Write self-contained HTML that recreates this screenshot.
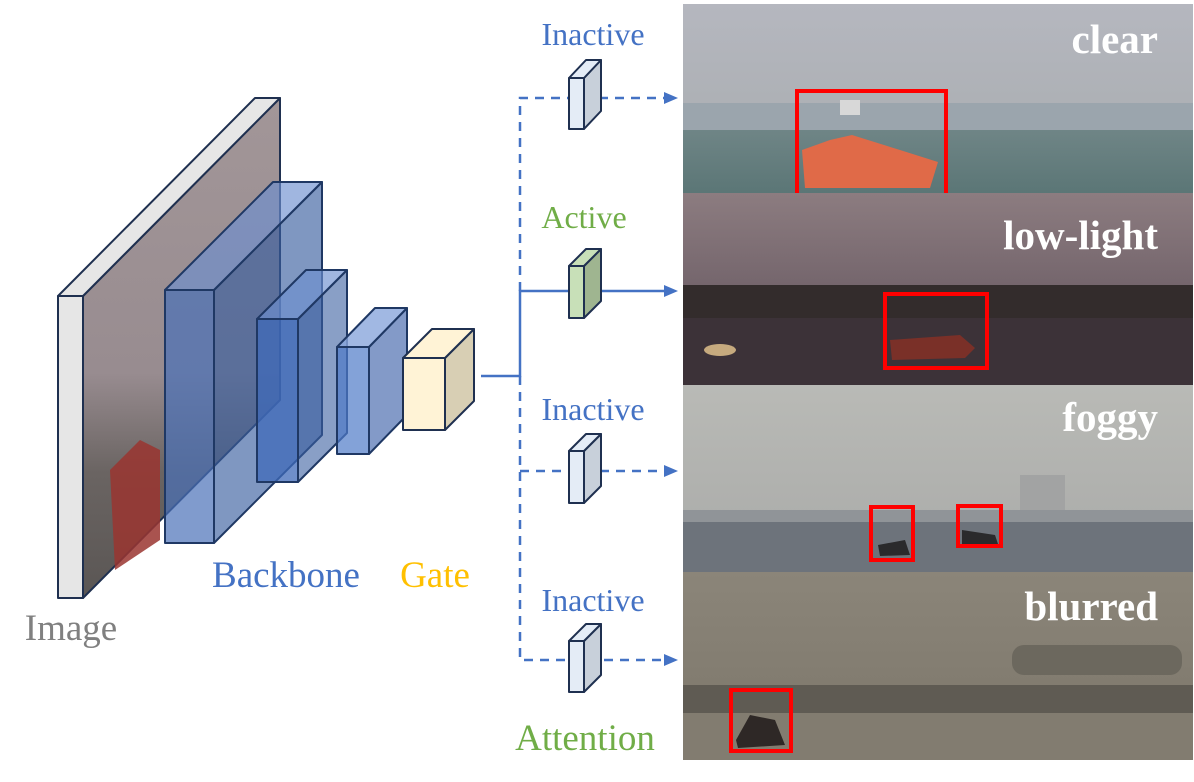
<!DOCTYPE html>
<html><head><meta charset="utf-8"><style>
html,body{margin:0;padding:0;background:#fff;}
svg{display:block;}
text{font-family:"Liberation Serif",serif;}
</style></head><body>
<svg width="1194" height="782" viewBox="0 0 1194 782" xmlns="http://www.w3.org/2000/svg">
<defs>
<linearGradient id="p1" x1="0" y1="0" x2="0" y2="1"><stop offset="0" stop-color="#b5b7bf"/><stop offset="0.5" stop-color="#aeb1b6"/><stop offset="1" stop-color="#a6aaae"/></linearGradient>
<linearGradient id="sea1" x1="0" y1="0" x2="0" y2="1"><stop offset="0" stop-color="#6f8586"/><stop offset="1" stop-color="#5b7676"/></linearGradient>
<linearGradient id="p2" x1="0" y1="0" x2="0" y2="1"><stop offset="0" stop-color="#8c7c80"/><stop offset="1" stop-color="#5c4e58"/></linearGradient>
<linearGradient id="p3" x1="0" y1="0" x2="0" y2="1"><stop offset="0" stop-color="#b9bab6"/><stop offset="1" stop-color="#a9aaa8"/></linearGradient>
<linearGradient id="p4" x1="0" y1="0" x2="0" y2="1"><stop offset="0" stop-color="#8b8579"/><stop offset="1" stop-color="#7c766a"/></linearGradient>
<linearGradient id="slab" x1="0" y1="0" x2="0" y2="1"><stop offset="0" stop-color="#a29698"/><stop offset="0.55" stop-color="#988c90"/><stop offset="0.75" stop-color="#6a6462"/><stop offset="1" stop-color="#5a5654"/></linearGradient>
</defs>

<rect x="683" y="4" width="510" height="189" fill="url(#p1)"/>
<rect x="683" y="103" width="510" height="28" fill="#9ba5ad"/>
<rect x="683" y="130" width="510" height="63" fill="url(#sea1)"/>
<path d="M802 150 L830 140 L852 135 L900 150 L938 162 L930 188 L805 188 Z" fill="#e06a48"/>
<rect x="840" y="100" width="20" height="15" fill="#d8d8d8"/>
<rect x="797" y="91" width="149" height="105" fill="none" stroke="#ff0000" stroke-width="4"/>
<text x="1158" y="53" font-size="41" font-weight="bold" fill="#fff" text-anchor="end">clear</text>

<rect x="683" y="193" width="510" height="192" fill="url(#p2)"/>
<rect x="683" y="285" width="510" height="35" fill="#332c2c"/>
<rect x="683" y="318" width="510" height="67" fill="#3c3238"/>
<ellipse cx="720" cy="350" rx="16" ry="6" fill="#e8c890" opacity="0.8"/>
<path d="M890 340 L960 335 L975 348 L965 358 L892 360 Z" fill="#7a3028"/>
<rect x="885" y="294" width="102" height="74" fill="none" stroke="#ff0000" stroke-width="4"/>
<text x="1158" y="249" font-size="41" font-weight="bold" fill="#fff" text-anchor="end">low-light</text>

<rect x="683" y="385" width="510" height="187" fill="url(#p3)"/>
<rect x="1020" y="475" width="45" height="35" fill="#a2a3a3"/>
<rect x="683" y="510" width="510" height="12" fill="#909498"/>
<rect x="683" y="522" width="510" height="50" fill="#6d737b"/>
<path d="M878 545 L905 540 L910 555 L880 556 Z" fill="#2a2a2c"/>
<path d="M962 530 L995 535 L998 544 L962 545 Z" fill="#2a2a2c"/>
<rect x="871" y="507" width="42" height="53" fill="none" stroke="#ff0000" stroke-width="4"/>
<rect x="958" y="506" width="43" height="40" fill="none" stroke="#ff0000" stroke-width="4"/>
<text x="1158" y="431" font-size="41" font-weight="bold" fill="#fff" text-anchor="end">foggy</text>

<rect x="683" y="572" width="510" height="188" fill="url(#p4)"/>
<rect x="1012" y="645" width="170" height="30" rx="12" fill="#6c685e"/>
<rect x="683" y="685" width="510" height="28" fill="#5f5b53"/>
<rect x="683" y="713" width="510" height="47" fill="#827c70"/>
<path d="M736 740 L750 715 L775 720 L785 745 L738 748 Z" fill="#2e2826"/>
<rect x="731" y="690" width="60" height="61" fill="none" stroke="#ff0000" stroke-width="4"/>
<text x="1158" y="620" font-size="41" font-weight="bold" fill="#fff" text-anchor="end">blurred</text>

<g stroke="#1f3050" stroke-width="2" stroke-linejoin="round">
<polygon points="83,296 280,98 280,400 83,598" fill="url(#slab)"/>
<polygon points="58,296 83,296 280,98 255,98" fill="#e6e6e6"/>
<polygon points="58,296 83,296 83,598 58,598" fill="#e6e6e6"/>
</g>
<path d="M110 470 L140 440 L160 450 L160 540 L115 570 Z" fill="#9a3530" opacity="0.85"/>

<g stroke="#1f3864" stroke-width="2" stroke-linejoin="round">
<polygon points="214,290 322,182 322,435 214,543" fill="#3a5fa0" fill-opacity="0.65"/>
<polygon points="165,290 273,182 322,182 214,290" fill="#6d8fd0" fill-opacity="0.65"/>
<rect x="165" y="290" width="49" height="253" fill="#4a70b8" fill-opacity="0.7"/>
<polygon points="298,319 347,270 347,433 298,482" fill="#3a5fa0" fill-opacity="0.6"/>
<polygon points="257,319 306,270 347,270 298,319" fill="#6d8fd0" fill-opacity="0.65"/>
<rect x="257" y="319" width="41" height="163" fill="#3f6ab8" fill-opacity="0.75"/>
<polygon points="369,347 407,308 407,415 369,454" fill="#4e6fb0" fill-opacity="0.7"/>
<polygon points="337,347 375,308 407,308 369,347" fill="#8aa6dc" fill-opacity="0.8"/>
<rect x="337" y="347" width="32" height="107" fill="#4f7ac8" fill-opacity="0.7"/>
</g>
<g stroke="#1f3050" stroke-width="2" stroke-linejoin="round">
<polygon points="445,358 474,329 474,401 445,430" fill="#d8cfb4"/>
<polygon points="403,358 432,329 474,329 445,358" fill="#fff3d6"/>
<rect x="403" y="358" width="42" height="72" fill="#fff3d6"/>
</g>

<g stroke="#4472c4" stroke-width="2.5" fill="none">
<polyline points="481,376 520,376 520,291 670,291"/>
<path d="M520 291 L520 98 L670 98" stroke-dasharray="9,7"/>
<path d="M520 376 L520 660 L670 660" stroke-dasharray="9,7"/>
<path d="M520 471 L670 471" stroke-dasharray="9,7"/>
</g>
<g fill="#4472c4">
<polygon points="678,98 664,92 664,104"/>
<polygon points="678,291 664,285 664,297"/>
<polygon points="678,471 664,465 664,477"/>
<polygon points="678,660 664,654 664,666"/>
</g>

<g stroke="#1f3050" stroke-width="2" stroke-linejoin="round">
<g><polygon points="584,78 601,60 601,111 584,129" fill="#c8d0da"/><polygon points="569,78 586,60 601,60 584,78" fill="#e4ecf6"/><rect x="569" y="78" width="15" height="51" fill="#e4ecf6"/></g>
<g><polygon points="584,266 601,249 601,301 584,318" fill="#9fb590"/><polygon points="569,266 586,249 601,249 584,266" fill="#c8e0b8"/><rect x="569" y="266" width="15" height="52" fill="#c8e0b8"/></g>
<g><polygon points="584,451 601,434 601,486 584,503" fill="#c8d0da"/><polygon points="569,451 586,434 601,434 584,451" fill="#e4ecf6"/><rect x="569" y="451" width="15" height="52" fill="#e4ecf6"/></g>
<g><polygon points="584,641 601,624 601,675 584,692" fill="#c8d0da"/><polygon points="569,641 586,624 601,624 584,641" fill="#e4ecf6"/><rect x="569" y="641" width="15" height="51" fill="#e4ecf6"/></g>
</g>

<text x="593" y="45" font-size="32" fill="#4472c4" text-anchor="middle">Inactive</text>
<text x="584" y="228" font-size="32" fill="#70ad47" text-anchor="middle">Active</text>
<text x="593" y="420" font-size="32" fill="#4472c4" text-anchor="middle">Inactive</text>
<text x="593" y="611" font-size="32" fill="#4472c4" text-anchor="middle">Inactive</text>
<text x="585" y="750" font-size="37" fill="#70ad47" text-anchor="middle">Attention</text>
<text x="286" y="587" font-size="37" fill="#4472c4" text-anchor="middle">Backbone</text>
<text x="435" y="587" font-size="37" fill="#ffc000" text-anchor="middle">Gate</text>
<text x="71" y="640" font-size="37" fill="#808080" text-anchor="middle">Image</text>
</svg>
</body></html>
